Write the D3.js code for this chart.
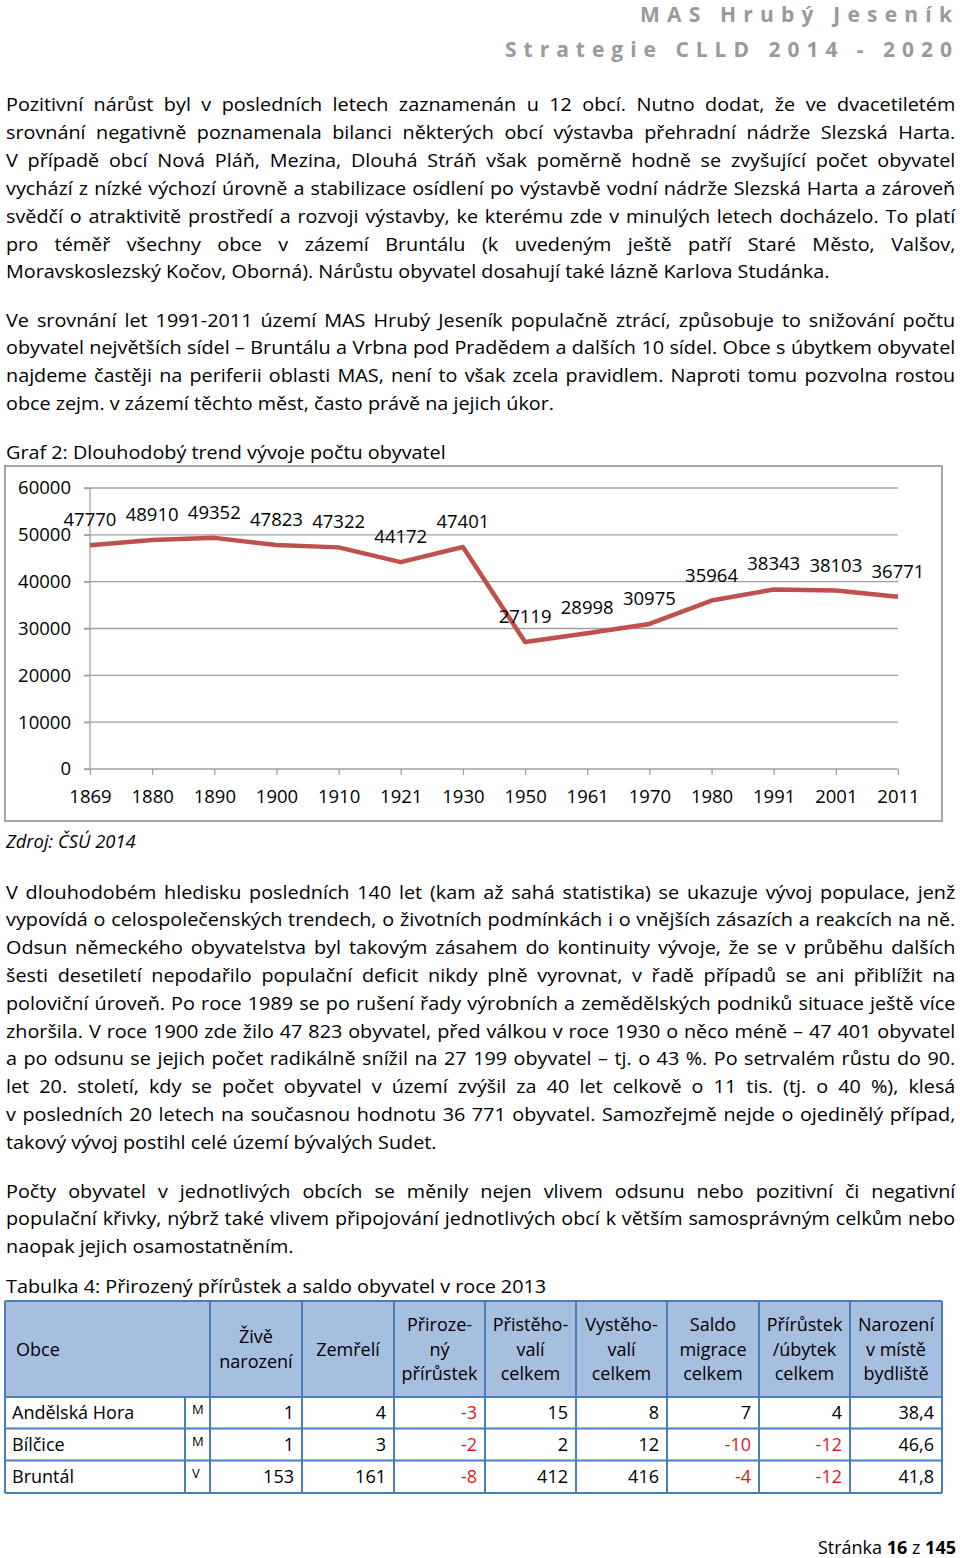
<!DOCTYPE html>
<html><head><meta charset="utf-8">
<script src="https://cdn.jsdelivr.net/npm/d3@7"></script>
<style>
html,body{margin:0;padding:0;background:#fff;}
svg{display:block;font-family:"Open Sans","Noto Sans",sans-serif;}
</style></head>
<body>
<svg id="page" width="960" height="1558"></svg>
<script>
// ---------- DATA ----------
const years = ["1869","1880","1890","1900","1910","1921","1930","1950","1961","1970","1980","1991","2001","2011"];
const population = [47770,48910,49352,47823,47322,44172,47401,27119,28998,30975,35964,38343,38103,36771];
const yTicks = [0,10000,20000,30000,40000,50000,60000];

const headerLines = ["MAS Hrubý Jeseník","Strategie CLLD 2014 - 2020"];

const para1 = [
"Pozitivní nárůst byl v posledních letech zaznamenán u 12 obcí. Nutno dodat, že ve dvacetiletém",
"srovnání negativně poznamenala bilanci některých obcí výstavba přehradní nádrže Slezská Harta.",
"V případě obcí Nová Pláň, Mezina, Dlouhá Stráň však poměrně hodně se zvyšující počet obyvatel",
"vychází z nízké výchozí úrovně a stabilizace osídlení po výstavbě vodní nádrže Slezská Harta a zároveň",
"svědčí o atraktivitě prostředí a rozvoji výstavby, ke kterému zde v minulých letech docházelo. To platí",
"pro téměř všechny obce v zázemí Bruntálu (k uvedeným ještě patří Staré Město, Valšov,",
"Moravskoslezský Kočov, Oborná). Nárůstu obyvatel dosahují také lázně Karlova Studánka."];
const para2 = [
"Ve srovnání let 1991-2011 území MAS Hrubý Jeseník populačně ztrácí, způsobuje to snižování počtu",
"obyvatel největších sídel – Bruntálu a Vrbna pod Pradědem a dalších 10 sídel. Obce s úbytkem obyvatel",
"najdeme častěji na periferii oblasti MAS, není to však zcela pravidlem. Naproti tomu pozvolna rostou",
"obce zejm. v zázemí těchto měst, často právě na jejich úkor."];
const chartCaption = "Graf 2: Dlouhodobý trend vývoje počtu obyvatel";
const sourceText = "Zdroj: ČSÚ 2014";
const para3 = [
"V dlouhodobém hledisku posledních 140 let (kam až sahá statistika) se ukazuje vývoj populace, jenž",
"vypovídá o celospolečenských trendech, o životních podmínkách i o vnějších zásazích a reakcích na ně.",
"Odsun německého obyvatelstva byl takovým zásahem do kontinuity vývoje, že se v průběhu dalších",
"šesti desetiletí nepodařilo populační deficit nikdy plně vyrovnat, v řadě případů se ani přiblížit na",
"poloviční úroveň. Po roce 1989 se po rušení řady výrobních a zemědělských podniků situace ještě více",
"zhoršila. V roce 1900 zde žilo 47 823 obyvatel, před válkou v roce 1930 o něco méně – 47 401 obyvatel",
"a po odsunu se jejich počet radikálně snížil na 27 199 obyvatel – tj. o 43 %. Po setrvalém růstu do 90.",
"let 20. století, kdy se počet obyvatel v území zvýšil za 40 let celkově o 11 tis. (tj. o 40 %), klesá",
"v posledních 20 letech na současnou hodnotu 36 771 obyvatel. Samozřejmě nejde o ojedinělý případ,",
"takový vývoj postihl celé území bývalých Sudet."];
const para4 = [
"Počty obyvatel v jednotlivých obcích se měnily nejen vlivem odsunu nebo pozitivní či negativní",
"populační křivky, nýbrž také vlivem připojování jednotlivých obcí k větším samosprávným celkům nebo",
"naopak jejich osamostatněním."];
const tableCaption = "Tabulka 4: Přirozený přírůstek a saldo obyvatel v roce 2013";

const tableHeaders = [["Obce"],["Živě","narození"],["Zemřelí"],["Přiroze-","ný","přírůstek"],
  ["Přistěho-","valí","celkem"],["Vystěho-","valí","celkem"],["Saldo","migrace","celkem"],
  ["Přírůstek","/úbytek","celkem"],["Narození","v místě","bydliště"]];
const obce = ["Andělská Hora","Bílčice","Bruntál"];
const obecTyp = ["M","M","V"];
const ziveNarozeni = [1,1,153];
const zemreli = [4,3,161];
const prirozenyPrirustek = [-3,-2,-8];
const pristehovali = [15,2,412];
const vystehovali = [8,12,416];
const saldoMigrace = [7,-10,-4];
const prirustekUbytek = [4,-12,-12];
const narozeniVMiste = ["38,4","46,6","41,8"];

const footerPage = "16", footerTotal = "145";

// ---------- LAYOUT ----------
const svg = d3.select("#page");
const FS = 18, SX = 1.1;
const textLeft = 6, textRight = 956;

function textLine(parent, str, y, justify, italic){
  const g = parent.append("g");
  const t = g.append("text").attr("x",0).attr("y",0).attr("font-size", FS).attr("fill","#000")
    .attr("font-style", italic ? "italic" : null).text(str);
  const w = t.node().getComputedTextLength();
  const avail = textRight - textLeft;
  let sx = italic ? 1.02 : SX;
  if(justify){
    const nSp = (str.match(/ /g) || []).length;
    if(w*SX <= avail){
      t.attr("word-spacing", (avail/SX - w)/nSp);
    } else {
      sx = avail / w;
    }
  }
  g.attr("transform", `translate(${textLeft},${y}) scale(${sx},1)`);
}
function paragraph(lines, y0, pitch){
  const g = svg.append("g");
  lines.forEach((l,i) => textLine(g, l, y0 + i*pitch, i < lines.length-1));
}

// header
headerLines.forEach((h,i) => {
  const lens = [312, 447];
  svg.append("text").attr("x", 952 - lens[i]).attr("y", [22, 57][i])
    .attr("font-size", 21).attr("font-weight", "bold").attr("fill", "#9a9a9a")
    .attr("textLength", lens[i]).attr("lengthAdjust", "spacing").text(h);
});

paragraph(para1, 111, 27.9);
paragraph(para2, 326.5, 27.9);
textLine(svg, chartCaption, 459, false);

// ---------- CHART ----------
svg.append("rect").attr("x",5).attr("y",466).attr("width",937).attr("height",355)
  .attr("fill","#fff").attr("stroke","#a6a6a6").attr("stroke-width",2);

const x = d3.scalePoint().domain(years).range([90, 898]);
const y = d3.scaleLinear().domain([0, 60000]).range([769, 488]);
const chart = svg.append("g");
const CFS = 18.5;

chart.append("g").selectAll("line").data(yTicks.filter(d=>d>0)).join("line")
  .attr("x1", 84).attr("x2", 898).attr("y1", d=>y(d)).attr("y2", d=>y(d))
  .attr("stroke","#a0a0a0").attr("stroke-width",1.3);

const yAxis = chart.append("g").attr("transform","translate(90,0)")
  .call(d3.axisLeft(y).tickValues(yTicks).tickFormat(d3.format("d")).tickSize(6).tickPadding(13));
yAxis.select(".domain").attr("stroke","#a0a0a0").attr("stroke-width",1.3).attr("d","M0,488V769");
yAxis.selectAll(".tick line").attr("stroke","#a0a0a0").attr("stroke-width",1.3);
yAxis.selectAll("text").attr("font-size",CFS).attr("font-family","Open Sans").attr("fill","#000");

const xAxis = chart.append("g").attr("transform","translate(0,769)")
  .call(d3.axisBottom(x).tickSize(6).tickPadding(15));
xAxis.select(".domain").attr("stroke","#a0a0a0").attr("stroke-width",1.3).attr("d","M84,0H898");
xAxis.selectAll(".tick line").attr("stroke","#a0a0a0").attr("stroke-width",1.3);
xAxis.selectAll("text").attr("font-size",CFS).attr("font-family","Open Sans").attr("fill","#000");

const series = years.map((yr,i)=>({year:yr, value:population[i]}));
chart.append("path").datum(series)
  .attr("d", d3.line().x(d=>x(d.year)).y(d=>y(d.value)))
  .attr("fill","none").attr("stroke","#c0504d").attr("stroke-width",4.5)
  .attr("stroke-linejoin","round");

chart.append("g").selectAll("text").data(series).join("text")
  .attr("x", d=>x(d.year)).attr("y", d=>y(d.value)-19)
  .attr("text-anchor","middle").attr("font-size",CFS).attr("fill","#000")
  .text(d=>d.value);

textLine(svg, sourceText, 848, false, true);

paragraph(para3, 898.5, 27.8);
paragraph(para4, 1197.5, 27.8);
textLine(svg, tableCaption, 1293, false);

// ---------- TABLE ----------
const TFS = 18;
const colEdges = [5,185,210,302,394,485,576,667,759,850,942];
const rowEdges = [1301,1397,1428.5,1460.5,1493];
const tg = svg.append("g");
const blue = "#4a7ebb", red = "#e0161c";
tg.append("rect").attr("x",5).attr("y",1301).attr("width",937).attr("height",96).attr("fill","#a7bfde");
const headerCells = tableHeaders.map((h,i)=>{
  const x0 = i===0 ? colEdges[0] : colEdges[i+1];
  const x1 = colEdges[i+2];
  return {lines:h, x0, x1};
});
headerCells.forEach((c,i)=>{
  const n = c.lines.length;
  const mid = 1355.5;
  c.lines.forEach((ln,j)=>{
    const yy = mid + (j - (n-1)/2)*24.5;
    tg.append("text").attr("x", i===0 ? c.x0+11 : (c.x0+c.x1)/2).attr("y", yy)
      .attr("text-anchor", i===0 ? "start":"middle").attr("font-size",TFS).attr("fill","#000").text(ln);
  });
});
const rows = obce.map((o,i)=>[ziveNarozeni[i],zemreli[i],prirozenyPrirustek[i],pristehovali[i],
  vystehovali[i],saldoMigrace[i],prirustekUbytek[i],narozeniVMiste[i]]);
obce.forEach((o,i)=>{
  const yb = (rowEdges[i+1]+rowEdges[i+2])/2 + 6.5;
  tg.append("text").attr("x",12).attr("y",yb).attr("font-size",TFS).text(o);
  tg.append("text").attr("x",192).attr("y",rowEdges[i+1]+17).attr("font-size",13).text(obecTyp[i]);
  rows[i].forEach((v,j)=>{
    const neg = typeof v === "number" && v < 0;
    tg.append("text").attr("x", colEdges[j+3]-8).attr("y", yb).attr("text-anchor","end")
      .attr("font-size",TFS).attr("fill", neg ? red : "#000").text(v);
  });
});
tg.selectAll("line.h").data(rowEdges).join("line").attr("class","h")
  .attr("x1",5).attr("x2",942).attr("y1",d=>d).attr("y2",d=>d).attr("stroke",blue).attr("stroke-width",2);
colEdges.forEach((cx,k)=>{
  tg.append("line").attr("x1",cx).attr("x2",cx)
    .attr("y1", k===1 ? 1397 : 1301).attr("y2",1493).attr("stroke",blue).attr("stroke-width",2);
});

// footer
const ft = svg.append("text").attr("x",956).attr("y",1554).attr("text-anchor","end").attr("font-size",18);
ft.append("tspan").text("Stránka ");
ft.append("tspan").attr("font-weight","bold").text(footerPage);
ft.append("tspan").text(" z ");
ft.append("tspan").attr("font-weight","bold").text(footerTotal);
</script>
</body></html>
